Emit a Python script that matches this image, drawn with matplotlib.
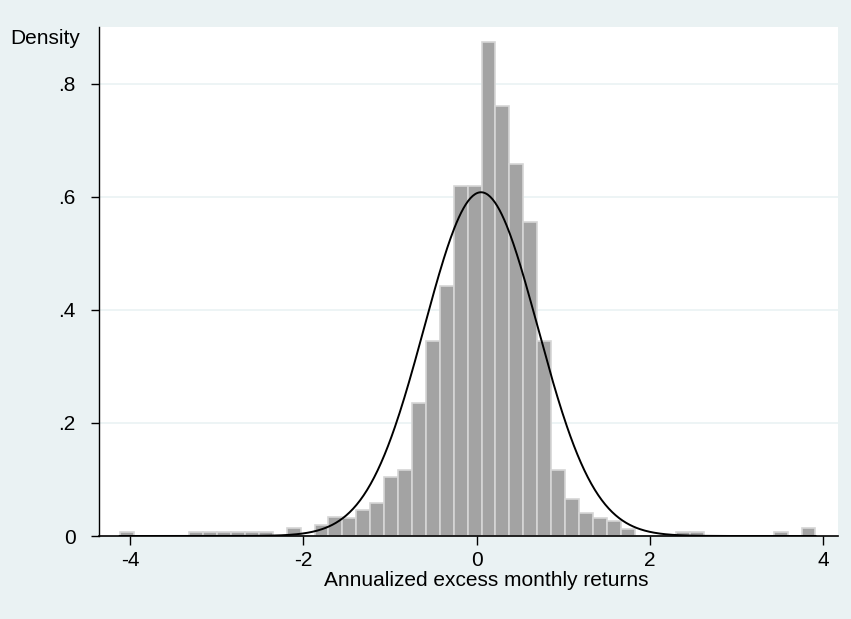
import numpy as np
import matplotlib
matplotlib.use("Agg")
import matplotlib.pyplot as plt

# ---- data ----
hist_min = -4.122
hist_max = 3.912
n_bins = 50
density = [0.0075, 0, 0, 0, 0,
           0.0075, 0.0075, 0.0075, 0.0075, 0.0075,
           0.0075, 0, 0.0135, 0, 0.019,
           0.033, 0.032, 0.046, 0.059, 0.104,
           0.116, 0.236, 0.345, 0.442, 0.620,
           0.620, 0.874, 0.761, 0.658, 0.555,
           0.345, 0.116, 0.065, 0.040, 0.032,
           0.026, 0.013, 0, 0, 0,
           0.0075, 0.0075, 0, 0, 0,
           0, 0, 0.0075, 0, 0.0145]
norm_mean = 0.05
norm_sd = 0.656
x_ticks = [-4, -2, 0, 2, 4]
x_tick_labels = ["-4", "-2", "0", "2", "4"]
y_ticks = [0, 0.2, 0.4, 0.6, 0.8]
y_tick_labels = ["0", ".2", ".4", ".6", ".8"]
x_title = "Annualized excess monthly returns"
y_title = "Density"

# ---- style ----
plt.rcParams['font.family'] = ['Liberation Sans', 'DejaVu Sans']
bg = '#EAF2F3'
fs = 15

fig = plt.figure(figsize=(8.51, 6.19), dpi=100, facecolor=bg)
ax = fig.add_axes([99/851, 1-536/619, (838-99)/851, (536-27.3)/619])
ax.set_facecolor('white')

edges = np.linspace(hist_min, hist_max, n_bins + 1)
width = edges[1] - edges[0]
ax.bar(edges[:-1], density, width=width, align='edge',
       color='#a3a3a3', edgecolor='#d6d6d6', linewidth=1.2, zorder=2)

xs = np.linspace(hist_min, hist_max, 600)
ys = np.exp(-0.5 * ((xs - norm_mean) / norm_sd) ** 2) / (norm_sd * np.sqrt(2 * np.pi))
ax.plot(xs, ys, color='black', linewidth=1.4, zorder=3)

ax.set_xlim(-4.361, 4.172)
ax.set_ylim(0, 0.9)

for yv in y_ticks[1:]:
    ax.axhline(yv, color=bg, linewidth=1.2, zorder=1)

for s in ['top', 'right']:
    ax.spines[s].set_visible(False)
ax.spines['bottom'].set_linewidth(1.2)
ax.spines['bottom'].set_zorder(4)
ax.spines['left'].set_linewidth(1.0)

ax.set_xticks(x_ticks)
ax.set_xticklabels(x_tick_labels, fontsize=fs)
ax.set_yticks(y_ticks)
ax.set_yticklabels(y_tick_labels, fontsize=fs)
ax.tick_params(axis='x', length=6.5, width=1.0, pad=4.5)
ax.tick_params(axis='y', length=5.5, width=1.0, pad=11.5)

ax.set_xlabel(x_title, fontsize=fs)
ax.xaxis.set_label_coords((486 - 99) / 739, -(580 - 536) / 508.7, transform=ax.transAxes)
ax.xaxis.label.set_va('center')
fig.text(10/851, 1-38/619, y_title, fontsize=fs, ha='left', va='center')

fig.savefig('out.png', dpi=100, facecolor=bg)
